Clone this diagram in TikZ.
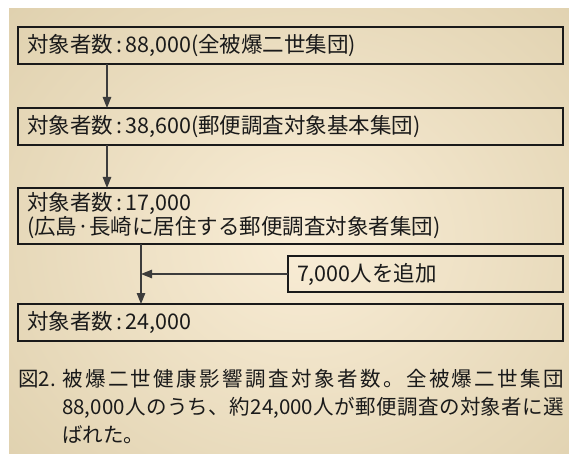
\documentclass[tikz,border=0pt]{standalone}
\usepackage{fontspec}
\setmainfont{Noto Sans CJK JP}
\usetikzlibrary{arrows.meta}
\definecolor{bgd}{HTML}{D3C39B}
\definecolor{bgl}{HTML}{F9EDD6}
\definecolor{ink}{HTML}{1A1A1A}
\begin{document}
\begin{tikzpicture}[x=1pt,y=-1pt,
  every node/.style={font=\fontsize{21.5}{24}\selectfont, text=ink},
  stagebox/.style={draw=ink, line width=1.2pt, outer sep=0pt, anchor=north west,
    inner xsep=9pt, inner ysep=0pt, align=left},
  arr/.style={draw=ink!85, line width=1.1pt, -{Triangle[width=8.5pt,length=11pt]}},
  capline/.style={anchor=base west, inner sep=0pt, font=\fontsize{20.5}{24}\selectfont}]
\useasboundingbox (0,0) rectangle (569,454);
\fill[white] (0,0) rectangle (569,454);
\begin{scope}
  \clip (9,9) rectangle (569,454);
  \fill[bgd] (9,9) rectangle (569,454);
  \shade[inner color=bgl, outer color=bgd] (305,240) ellipse (600 and 520);
\end{scope}
% boxes
\node[stagebox, minimum width=545pt, minimum height=37pt, text width=527pt] (b1) at (18,27)
  {対象者数\hspace{0.15em}:\hspace{0.15em}88,000(全被爆二世集団)};
\node[stagebox, minimum width=545pt, minimum height=37pt, text width=527pt] (b2) at (18,108)
  {対象者数\hspace{0.15em}:\hspace{0.15em}38,600(郵便調査対象基本集団)};
\node[stagebox, minimum width=545pt, minimum height=56pt, text width=527pt] (b3) at (18,188)
  {対象者数\hspace{0.15em}:\hspace{0.15em}17,000\\(広島·長崎に居住する郵便調査対象者集団)};
\node[stagebox, minimum width=275pt, minimum height=36pt, text width=257pt] (add) at (288,256)
  {7,000人を追加};
\node[stagebox, minimum width=545pt, minimum height=37pt, text width=527pt] (b4) at (18,304)
  {対象者数\hspace{0.15em}:\hspace{0.15em}24,000};
% connectors
\coordinate (c1) at (107,0);
\coordinate (c3) at (141,0);
\draw[arr] (b1.south -| c1) -- (b2.north -| c1);
\draw[arr] (b2.south -| c1) -- (b3.north -| c1);
\draw[arr] (b3.south -| c3) -- (b4.north -| c3);
\draw[arr] (add.west) -- (add.west -| c3);
% caption
\node[capline] (cap0) at (18,386) {図2.};
\node[capline] (cap1) at (62,386) {\makebox[502pt][s]{被\hfill 爆\hfill 二\hfill 世\hfill 健\hfill 康\hfill 影\hfill 響\hfill 調\hfill 査\hfill 対\hfill 象\hfill 者\hfill 数\hfill 。\hfill 全\hfill 被\hfill 爆\hfill 二\hfill 世\hfill 集\hfill 団}};
\node[capline] (cap2) at (62,414) {\makebox[502pt][s]{88,000\hfill 人\hfill の\hfill う\hfill ち\hfill 、\hfill 約\hfill 24,000\hfill 人\hfill が\hfill 郵\hfill 便\hfill 調\hfill 査\hfill の\hfill 対\hfill 象\hfill 者\hfill に\hfill 選}};
\node[capline] (cap3) at (62,442) {ばれた。};
\end{tikzpicture}
\end{document}
